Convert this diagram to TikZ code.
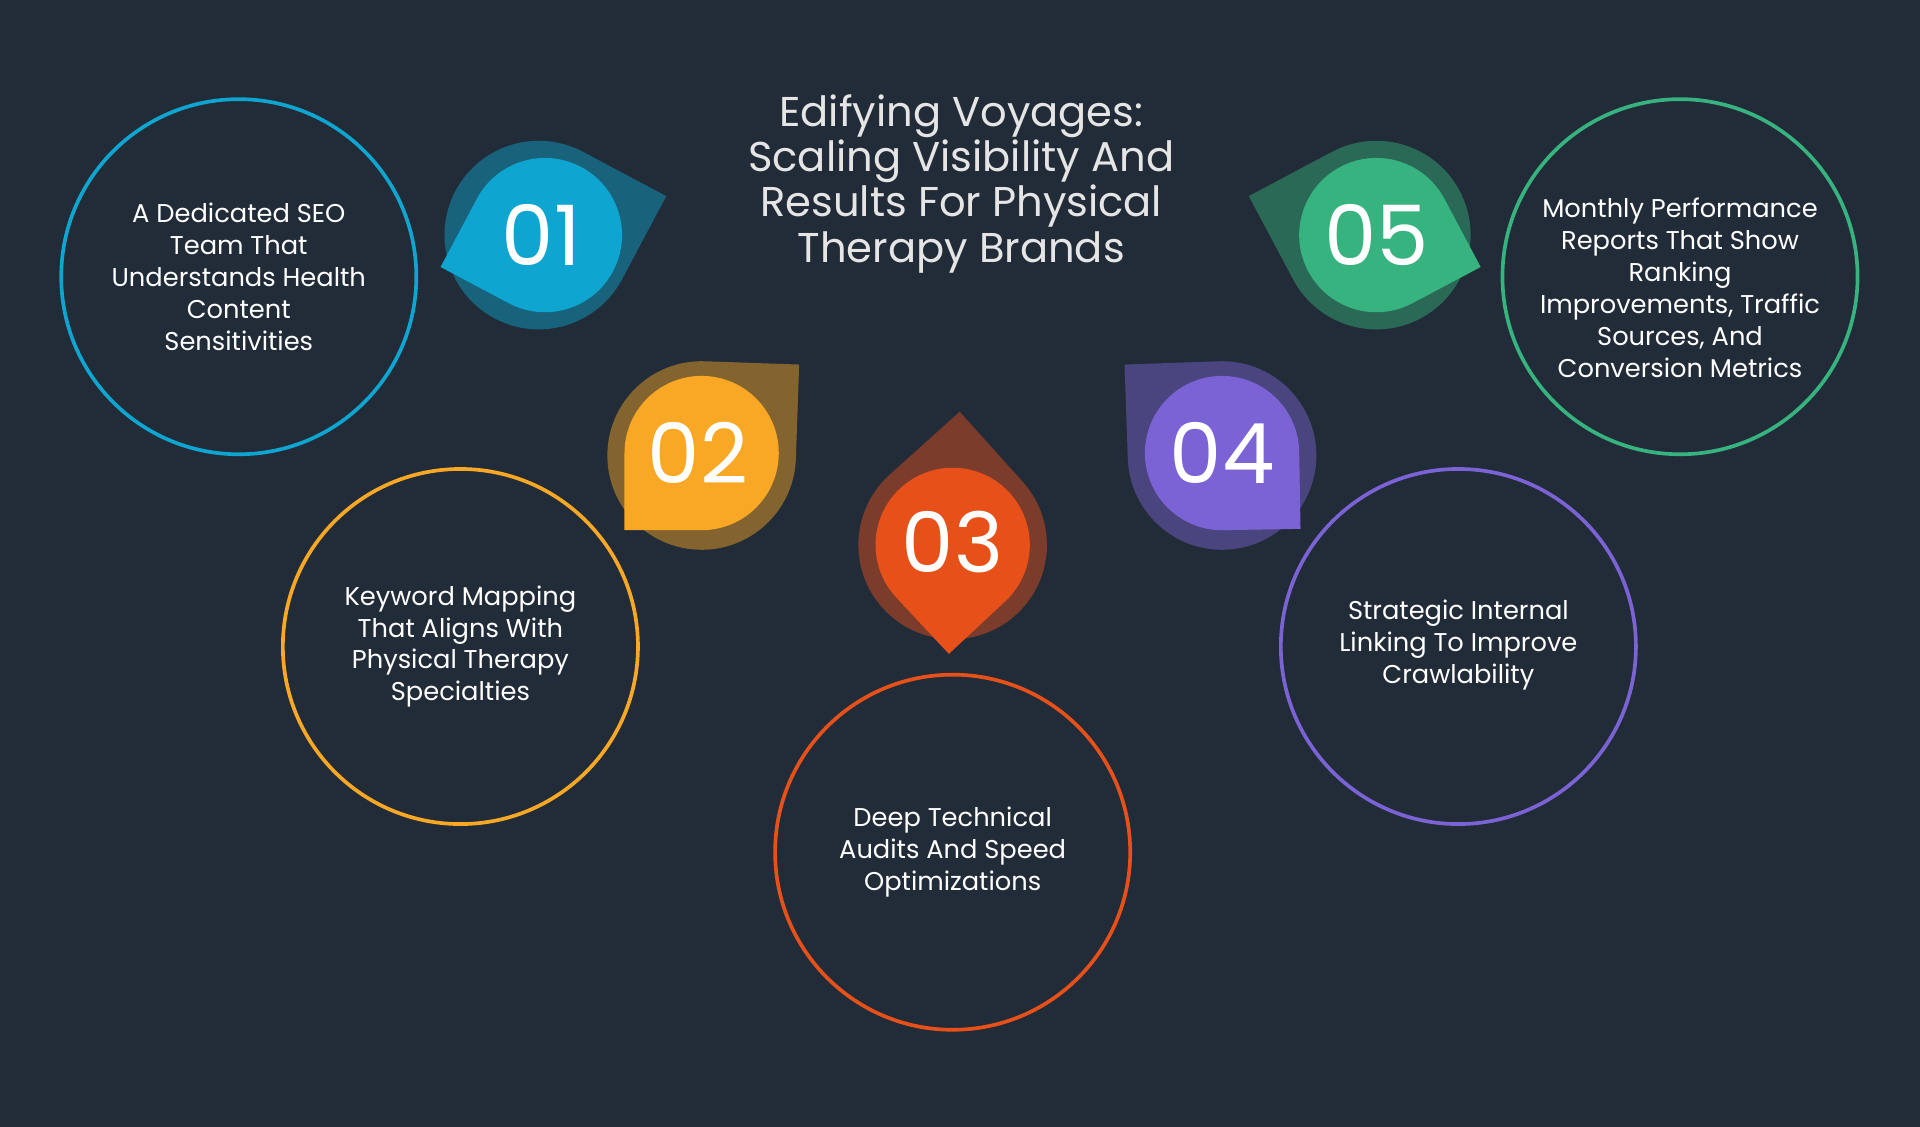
\documentclass[tikz,border=0pt]{standalone}
\usepackage{fontspec}
\setmainfont{Poppins}
\definecolor{bg}{HTML}{222C38}
\definecolor{cA}{HTML}{0EA5D0}
\definecolor{cB}{HTML}{F9A825}
\definecolor{cC}{HTML}{E8501A}
\definecolor{cD}{HTML}{7B63D6}
\definecolor{cE}{HTML}{36B37E}
\begin{document}
\begin{tikzpicture}[x=0.5pt,y=0.5pt,
  ring/.style={line width=1.5pt},
  txt/.style={text=white,align=center,font=\fontsize{10.5}{13}\selectfont},
  num/.style={text=white,font=\fontsize{34}{34}\selectfont}]
\fill[bg] (0,0) rectangle (1568,920);
\useasboundingbox (0,0) rectangle (1568,920);
% teardrop: #1 center, #2 radius, #3 angle, #4 color
\newcommand{\drop}[4]{\fill[#4,shift={#1},rotate=#3] (1.4142*#2,0) -- (45:#2) arc[start angle=45,end angle=315,radius=#2] -- cycle;}
% rings
\draw[ring,cA] (195,694) circle (145);
\draw[ring,cB] (376,392) circle (145);
\draw[ring,cC] (778,224) circle (145);
\draw[ring,cD] (1191,392) circle (145);
\draw[ring,cE] (1372,694) circle (145);
\node[txt] (t1) at (195,694) {A Dedicated SEO\\Team That\\Understands Health\\Content\\Sensitivities};
\node[txt] (t2) at (376,392) {Keyword Mapping\\That Aligns With\\Physical Therapy\\Specialties};
\node[txt] (t3) at (778,224) {Deep Technical\\Audits And Speed\\Optimizations};
\node[txt] (t4) at (1191,393) {Strategic Internal\\Linking To Improve\\Crawlability};
\node[txt] (t5) at (1372,685) {Monthly Performance\\Reports That Show\\Ranking\\Improvements, Traffic\\Sources, And\\Conversion Metrics};
% markers
\drop{(440,728)}{77}{17}{cA!45!bg}
\drop{(445,728)}{63}{197}{cA}
\drop{(573,548)}{77}{43}{cB!45!bg}
\drop{(573,550)}{63}{225}{cB}
\drop{(778,475)}{77}{87}{cC!45!bg}
\drop{(778,475)}{63}{268}{cC}
\drop{(998,548)}{77}{137}{cD!45!bg}
\drop{(998,550)}{63}{316}{cD}
\drop{(1124,728)}{77}{163}{cE!45!bg}
\drop{(1124,728)}{63}{343}{cE}
\node[num] (n1) at (442,728) {01};
\node[num] (n2) at (570,550) {02};
\node[num] (n3) at (778,477) {03};
\node[num] (n4) at (998,550) {04};
\node[num] (n5) at (1124,728) {05};
\node[text=black!10,align=center,font=\fontsize{17}{18.5}\selectfont] (title) at (785,770) {Edifying Voyages:\\Scaling Visibility And\\Results For Physical\\Therapy Brands};
\end{tikzpicture}
\end{document}
